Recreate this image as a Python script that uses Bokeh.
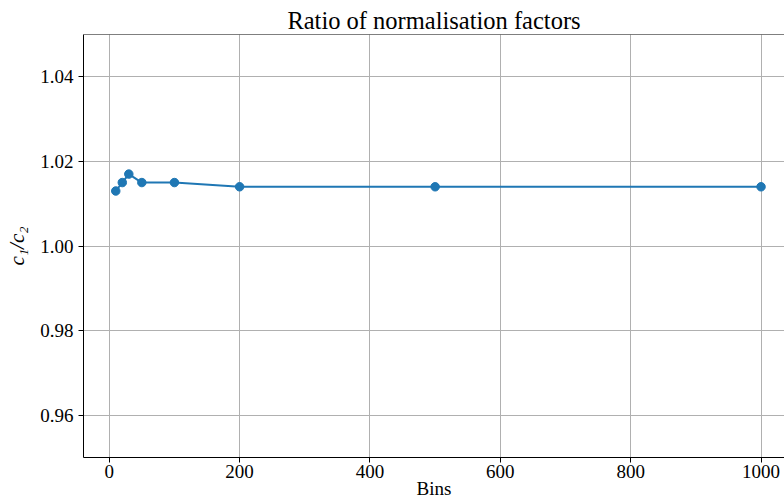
from bokeh.plotting import figure
from bokeh.models import FixedTicker, NumeralTickFormatter, Range1d, Span, ColumnDataSource
from bokeh.embed import file_html
from bokeh.resources import INLINE

# ---- data ----
bins = [10, 20, 30, 50, 100, 200, 500, 1000]
ratio = [1.013, 1.015, 1.017, 1.015, 1.015, 1.014, 1.014, 1.014]
x_ticks = [0, 200, 400, 600, 800, 1000]
y_ticks = [0.96, 0.98, 1.00, 1.02, 1.04]
title_text = "Ratio of normalisation factors"
x_label = "Bins"
y_label = "c\u2081/c\u2082"

FONT = "Liberation Serif"
BLUE = "#1f77b4"

src = ColumnDataSource(dict(x=bins, y=ratio))

p = figure(width=784, height=503, output_backend="svg", toolbar_location=None,
           x_range=Range1d(-39.5, 1036), y_range=Range1d(0.95, 1.05),
           min_border_left=83, min_border_right=0, min_border_top=34,
           min_border_bottom=46, title=title_text)

p.background_fill_color = "white"
p.border_fill_color = "white"
p.outline_line_color = None

p.title.align = "center"
p.title.text_font = FONT
p.title.text_font_style = "normal"
p.title.text_font_size = "24.5px"
p.title.text_color = "black"
p.title.standoff = 2
p.title.offset = 4

p.line("x", "y", source=src, line_color=BLUE, line_width=2)
p.scatter("x", "y", source=src, size=8.5, fill_color=BLUE, line_color=BLUE)

p.xaxis.ticker = FixedTicker(ticks=x_ticks)
p.yaxis.ticker = FixedTicker(ticks=y_ticks)
p.yaxis.formatter = NumeralTickFormatter(format="0.00")

p.xaxis.axis_label = x_label
p.yaxis.axis_label = y_label
p.yaxis.axis_label_text_font_style = "italic"
p.xaxis.axis_label_text_font_style = "normal"

for ax in (p.xaxis, p.yaxis):
    ax.axis_label_text_font = FONT
    ax.axis_label_text_font_size = "19px"
    ax.axis_label_text_color = "black"
    ax.major_label_text_font = FONT
    ax.major_label_text_font_size = "19px"
    ax.major_label_text_color = "black"
    ax.major_tick_out = 5
    ax.major_tick_in = 0
    ax.minor_tick_out = 0
    ax.minor_tick_in = 0
    ax.major_tick_line_color = "black"
    ax.axis_line_color = "black"
    ax.axis_line_width = 1

p.xaxis.major_label_standoff = 2
p.xaxis.axis_label_standoff = -3
p.yaxis.major_label_standoff = 5
p.yaxis.axis_label_standoff = 8
p.yaxis.axis_label_text_font_size = "21px"

p.grid.grid_line_color = "#b0b0b0"
p.grid.grid_line_width = 1

top = Span(location=1.05, dimension="width", line_color="black", line_width=1)
p.add_layout(top)

open("out.html", "w").write(file_html(p, INLINE))
